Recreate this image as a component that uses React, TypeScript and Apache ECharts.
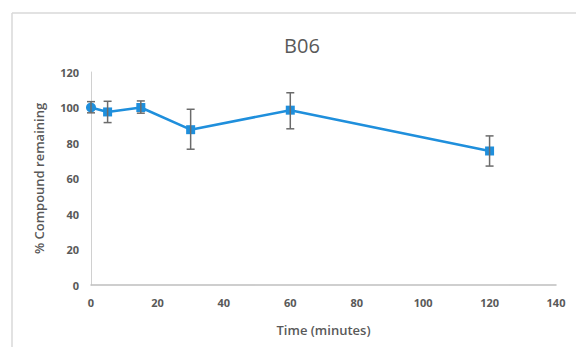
import React, { useEffect, useRef } from "react";
import * as echarts from "echarts";

const times = [0, 5, 15, 30, 60, 120];
const remaining = [100, 97.5, 100, 87.5, 98.5, 75.5];
const errLow = [97, 91.5, 96.8, 76.5, 88, 67];
const errHigh = [103.3, 103.5, 103.7, 99, 108.3, 84];
const xTicks = [0, 20, 40, 60, 80, 100, 120, 140];
const yTicks = [0, 20, 40, 60, 80, 100, 120];

export default function App() {
  const ref = useRef<HTMLDivElement>(null);
  useEffect(() => {
    if (!ref.current) return;
    const chart = echarts.init(ref.current, null, { renderer: "svg" });
    const labelColor = "#595959";
    const lineData = times.map((t, i) => ({
      value: [t, remaining[i]],
      symbol: i === 0 ? "circle" : "rect",
      symbolSize: i === 0 ? 10 : 9,
    }));
    const errData = times.map((t, i) => [t, errLow[i], errHigh[i]]);
    chart.setOption({
      animation: false,
      backgroundColor: "#ffffff",
      title: {
        text: "B06",
        left: 297,
        top: 30,
        textAlign: "center",
        textStyle: {
          color: labelColor,
          fontSize: 20,
          fontWeight: "normal",
          fontFamily: "Open Sans",
        },
      },
      graphic: [
        {
          type: "line",
          shape: { x1: 12, y1: 13, x2: 576, y2: 13 },
          style: { stroke: "#d9d9d9", lineWidth: 1.5 },
        },
        {
          type: "line",
          shape: { x1: 12, y1: 13, x2: 12, y2: 347 },
          style: { stroke: "#d9d9d9", lineWidth: 1.5 },
        },
      ],
      grid: { left: 91, right: 20, top: 72, bottom: 62, containLabel: false },
      xAxis: {
        type: "value",
        min: xTicks[0],
        max: xTicks[xTicks.length - 1],
        interval: 20,
        name: "Time (minutes)",
        nameLocation: "middle",
        nameGap: 38,
        nameTextStyle: {
          color: labelColor,
          fontSize: 13,
          fontWeight: 600,
          fontFamily: "Open Sans",
        },
        axisLine: { show: true, lineStyle: { color: "#bfbfbf", width: 1.5 } },
        axisTick: { show: false },
        splitLine: { show: false },
        axisLabel: {
          color: labelColor,
          fontSize: 11,
          fontWeight: "bold",
          fontFamily: "Open Sans",
          margin: 12,
        },
      },
      yAxis: {
        type: "value",
        min: yTicks[0],
        max: yTicks[yTicks.length - 1],
        interval: 20,
        name: "% Compound remaining",
        nameLocation: "middle",
        nameGap: 46,
        nameTextStyle: {
          color: labelColor,
          fontSize: 13,
          fontWeight: 600,
          fontFamily: "Open Sans",
        },
        axisLine: { show: true, lineStyle: { color: "#d0d0d0", width: 1 } },
        axisTick: { show: false },
        splitLine: { show: false },
        axisLabel: {
          color: labelColor,
          fontSize: 11,
          fontWeight: "bold",
          fontFamily: "Open Sans",
          margin: 12,
        },
      },
      series: [
        {
          type: "line",
          data: lineData,
          lineStyle: { color: "#1f8fdc", width: 2.5 },
          itemStyle: { color: "#1f8fdc" },
          z: 3,
        },
        {
          type: "custom",
          data: errData,
          z: 4,
          renderItem: (params: any, api: any) => {
            const x = api.value(0);
            const lo = api.coord([x, api.value(1)]);
            const hi = api.coord([x, api.value(2)]);
            const cap = 4;
            const style = { stroke: "#6b6b6b", lineWidth: 1.5 };
            return {
              type: "group",
              children: [
                { type: "line", shape: { x1: lo[0], y1: lo[1], x2: hi[0], y2: hi[1] }, style },
                { type: "line", shape: { x1: hi[0] - cap, y1: hi[1], x2: hi[0] + cap, y2: hi[1] }, style },
                { type: "line", shape: { x1: lo[0] - cap, y1: lo[1], x2: lo[0] + cap, y2: lo[1] }, style },
              ],
            };
          },
        },
      ],
    });
    return () => chart.dispose();
  }, []);
  return (
    <div
      ref={ref}
      style={{ position: "fixed", left: 0, top: 0, width: 576, height: 347 }}
    />
  );
}
